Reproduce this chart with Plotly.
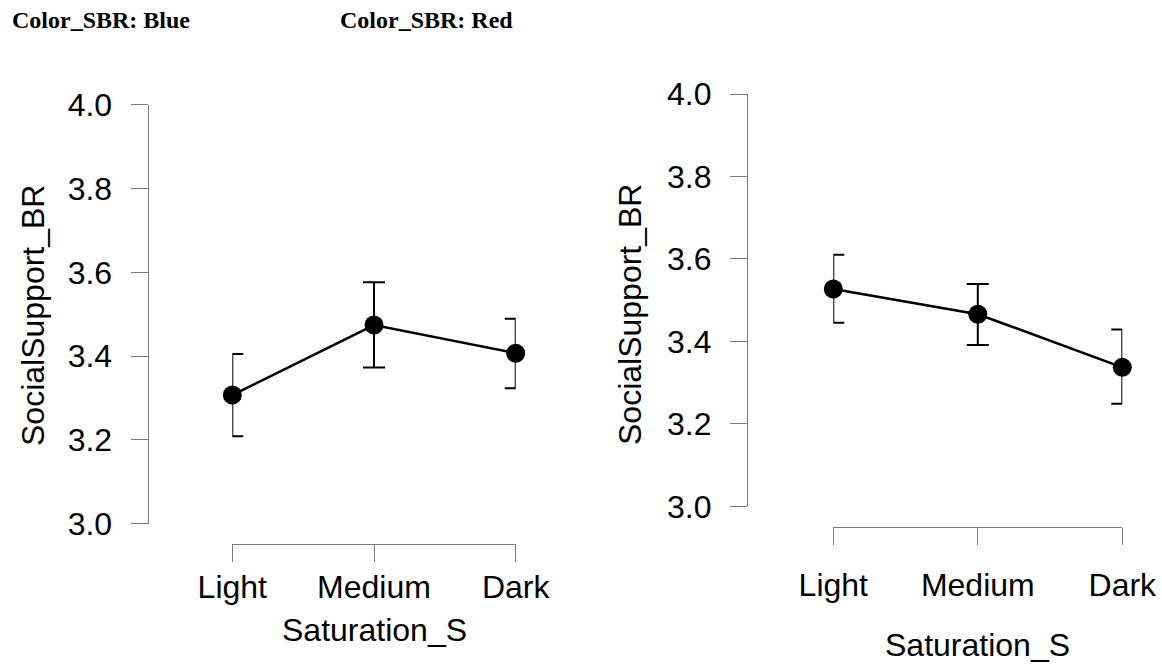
import plotly.graph_objects as go

# ---------------- data ----------------
categories = ["Light", "Medium", "Dark"]

blue_mean = [3.307, 3.474, 3.407]
blue_lower = [3.209, 3.373, 3.323]
blue_upper = [3.405, 3.576, 3.489]

red_mean = [3.527, 3.466, 3.337]
red_lower = [3.445, 3.391, 3.249]
red_upper = [3.610, 3.539, 3.429]

y_ticks = [3.0, 3.2, 3.4, 3.6, 3.8, 4.0]
y_ticktext = ["3.0", "3.2", "3.4", "3.6", "3.8", "4.0"]

panel_titles = ["Color_SBR: Blue", "Color_SBR: Red"]
x_title = "Saturation_S"
y_title = "SocialSupport_BR"

# ---------------- layout helpers ----------------
W, H = 1162, 665


def px_x(p):
    return p / W


def px_y(p):
    return 1 - p / H


FONT = "Liberation Sans, Arial, sans-serif"
AXIS_COLOR = "#7a7a7a"
TICK_FONT = dict(family=FONT, size=32, color="black")

fig = go.Figure()

idx = list(range(len(categories)))

panels = [
    dict(mean=blue_mean, lo=blue_lower, hi=blue_upper, xa="x", ya="y"),
    dict(mean=red_mean, lo=red_lower, hi=red_upper, xa="x2", ya="y2"),
]

for p in panels:
    fig.add_trace(go.Scatter(
        x=idx, y=p["mean"], xaxis=p["xa"], yaxis=p["ya"],
        mode="lines+markers",
        line=dict(color="black", width=2.6),
        marker=dict(color="black", size=19),
        cliponaxis=False,
        error_y=dict(
            type="data", symmetric=False,
            array=[h - m for h, m in zip(p["hi"], p["mean"])],
            arrayminus=[m - l for m, l in zip(p["mean"], p["lo"])],
            color="black", thickness=2, width=11,
        ),
        showlegend=False, hoverinfo="skip",
    ))

# geometry (pixels) for each panel
geo = [
    dict(x0=232.3, x1=515.7, y3=523.7, y4=104.7, yax_x=147.7, xax_y=544.0, xstand=-3),
    dict(x0=833.3, x1=1122.3, y3=506.3, y4=94.0, yax_x=747.0, xax_y=527.3, xstand=12),
]

axis_common = dict(
    showgrid=False, zeroline=False, showline=True, linecolor=AXIS_COLOR,
    linewidth=1.3, ticks="outside", ticklen=17, tickwidth=1.3,
    tickcolor=AXIS_COLOR, tickfont=TICK_FONT, automargin=False,
)

for i, g in enumerate(geo):
    sfx = "" if i == 0 else str(i + 1)
    fig.update_layout(**{
        "xaxis" + sfx: dict(
            domain=[px_x(g["x0"]), px_x(g["x1"])],
            range=[0, len(categories) - 1],
            tickmode="array", tickvals=idx, ticktext=categories,
            anchor="free", position=px_y(g["xax_y"]),
            ticklabelstandoff=g["xstand"],
            **axis_common,
        ),
        "yaxis" + sfx: dict(
            domain=[px_y(g["y3"]), px_y(g["y4"])],
            range=[3.0, 4.0],
            tickmode="array", tickvals=y_ticks, ticktext=y_ticktext,
            anchor="free", position=px_x(g["yax_x"]),
            ticklabelstandoff=12,
            **axis_common,
        ),
    })

annotations = []
# panel titles
for t, xp in zip(panel_titles, [10, 338]):
    annotations.append(dict(
        text="<b>" + t + "</b>", x=px_x(xp), y=px_y(20), xref="paper", yref="paper",
        xanchor="left", yanchor="middle", showarrow=False,
        font=dict(family="Liberation Serif, Times New Roman, serif", size=24, color="black"),
    ))

# axis titles
for (xc, yc) in [(374, 630), (977.7, 644.5)]:
    annotations.append(dict(
        text=x_title, x=px_x(xc), y=px_y(yc), xref="paper", yref="paper",
        xanchor="center", yanchor="middle", showarrow=False,
        font=dict(family=FONT, size=32, color="black"),
    ))
for (xc, yc) in [(33, 316), (630, 315)]:
    annotations.append(dict(
        text=y_title, x=px_x(xc), y=px_y(yc), xref="paper", yref="paper",
        xanchor="center", yanchor="middle", showarrow=False, textangle=-90,
        font=dict(family=FONT, size=32, color="black"),
    ))

fig.update_layout(
    width=W, height=H,
    margin=dict(l=0, r=0, t=0, b=0, autoexpand=False),
    paper_bgcolor="white", plot_bgcolor="white",
    annotations=annotations,
)

fig.write_html("out.html")
